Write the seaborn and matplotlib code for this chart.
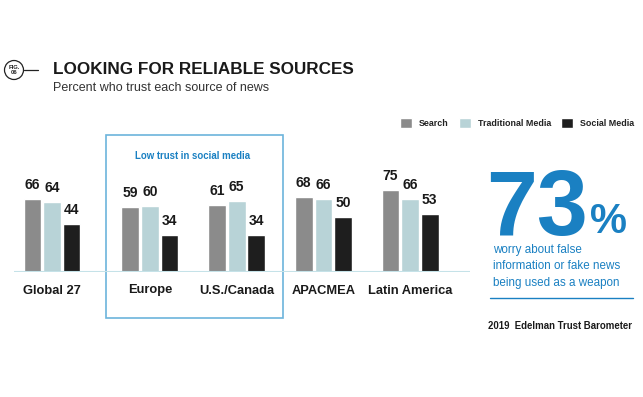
import matplotlib
matplotlib.use("Agg")
import matplotlib.pyplot as plt
import seaborn as sns
import pandas as pd
from matplotlib.patches import Rectangle, Circle

regions = ["Global 27", "Europe", "U.S./Canada", "APACMEA", "Latin America"]
series = ["Search", "Traditional Media", "Social Media"]
search = [66, 59, 61, 68, 75]
traditional = [64, 60, 65, 66, 66]
social = [44, 34, 34, 50, 53]

# layout: horizontal group positions (Global 27 sits a little apart)
group_pos = [0.0, 1.13, 2.13, 3.13, 4.13]

rows = []
for i, r in enumerate(regions):
    rows.append((group_pos[i], "Search", search[i]))
    rows.append((group_pos[i], "Traditional Media", traditional[i]))
    rows.append((group_pos[i], "Social Media", social[i]))
df = pd.DataFrame(rows, columns=["pos", "source", "value"])

sns.set_theme(style="white")
plt.rcParams["font.family"] = ["Liberation Sans", "DejaVu Sans"]

W, H = 643, 397
fig = plt.figure(figsize=(W / 100, H / 100), dpi=100)
fig.patch.set_facecolor("white")

def fx(px):
    return px / W

def fy(py):
    return 1 - py / H

# overlay axes in pixel coordinates for decorations
ov = fig.add_axes([0, 0, 1, 1])
ov.set_xlim(0, W)
ov.set_ylim(H, 0)
ov.axis("off")

unit = 86.7
x0px = 52
ax_left, ax_right = 14, 470
ax_bottom, ax_top = 272, 170
ax = fig.add_axes([fx(ax_left), fy(ax_bottom), (ax_right - ax_left) / W, (ax_bottom - ax_top) / H])
ax.set_facecolor("none")

palette = {"Search": "#8b8b8b", "Traditional Media": "#b8d3d7", "Social Media": "#1e1e1e"}
sns.barplot(data=df, x="pos", y="value", hue="source", hue_order=series,
            native_scale=True, palette=palette, width=0.68, gap=0.1, ax=ax,
            saturation=1, legend=True)

ax.set_xlim((ax_left - x0px) / unit, (ax_right - x0px) / unit)
ax.set_ylim(0, (ax_bottom - ax_top) / 1.1)
for s in ax.spines.values():
    s.set_visible(False)
ax.set_xlabel("")
ax.set_ylabel("")
ax.set_yticks([])
ax.set_xticks(group_pos)
ax.set_xticklabels(regions, fontsize=9.3, fontweight="bold", color="#1a1a1a")
ax.tick_params(axis="x", length=0, pad=9)
ax.axhline(0, color="#c5e2e8", lw=1.5, zorder=5)

for cont in ax.containers:
    ax.bar_label(cont, fmt="%d", padding=5, fontsize=10, fontweight="bold", color="#1a1a1a")

sns.move_legend(ax, "center right", bbox_to_anchor=(fx(642), fy(123)),
                bbox_transform=fig.transFigure, ncol=3, frameon=False, title=None,
                fontsize=6.4, handlelength=1.35, handleheight=1.35, handletextpad=0.75,
                columnspacing=1.15)
for t in ax.get_legend().get_texts():
    t.set_fontweight("bold")
    t.set_color("#222222")

blue = "#1a80c2"
# highlight box
ov.add_patch(Rectangle((106, 135), 283 - 106, 318 - 135, fill=False, ec="#6cb4dc", lw=1.2))
ov.text(193, 156, "Low trust in social media", color=blue, fontsize=6.9,
        fontweight="bold", ha="center", va="center")

# title area
ov.add_patch(Circle((14, 70), 9.5, fill=False, ec="#222222", lw=0.9))
ov.text(14, 70, "FIG.\n06", fontsize=4.2, fontweight="bold", ha="center",
        va="center", color="#222222", linespacing=1.0)
ov.plot([23.5, 38], [70, 70], color="#222222", lw=0.9)
ov.text(53, 70, "LOOKING FOR RELIABLE SOURCES", fontsize=12.3, fontweight="bold",
        ha="left", va="center", color="#1a1a1a")
ov.text(53, 88, "Percent who trust each source of news", fontsize=9,
        ha="left", va="center", color="#333333")

# big stat
ov.text(486, 235, "73", fontsize=66, fontweight="bold", color=blue,
        ha="left", va="baseline")
ov.text(590, 233, "%", fontsize=30, fontweight="bold", color=blue,
        ha="left", va="baseline")
for i, line in enumerate(["worry about false", "information or fake news", "being used as a weapon"]):
    ov.text(493, 250 + 16.3 * i, line, fontsize=8.4, color=blue, ha="left", va="center")
ov.plot([490, 633], [298, 298], color=blue, lw=1.0)
ov.text(632, 326, "2019  Edelman Trust Barometer", fontsize=6.9, fontweight="bold",
        ha="right", va="center", color="#1a1a1a")

fig.savefig("out.png", dpi=100)
